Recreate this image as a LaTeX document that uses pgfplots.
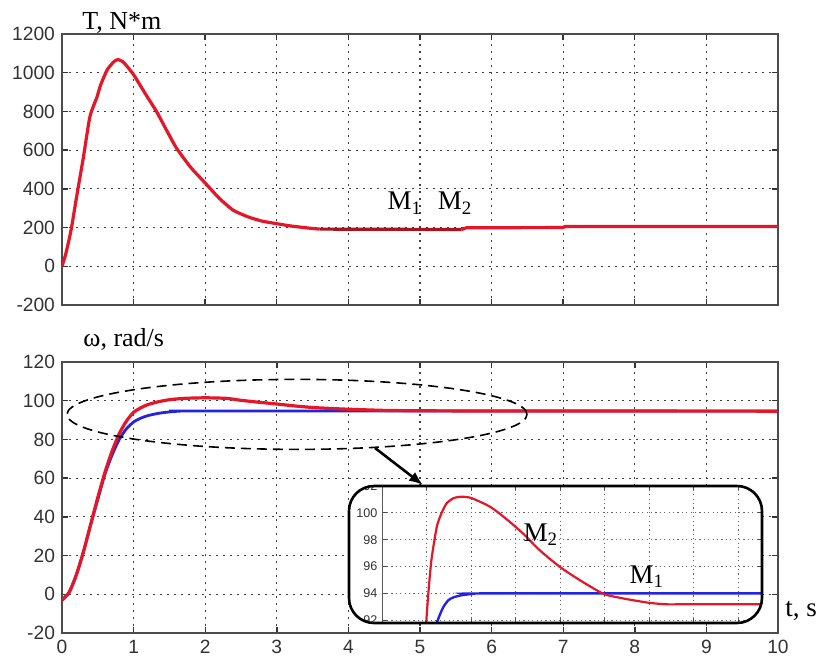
\documentclass[border=0pt]{standalone}
\usepackage{fontspec}
\setmainfont{Liberation Serif}
\newfontfamily\sansf{Liberation Sans}
\usepackage{pgfplots}
\pgfplotsset{compat=1.18}
\usetikzlibrary{arrows.meta}
\definecolor{cred}{RGB}{228,22,40}
\definecolor{cdred}{RGB}{170,20,30}
\definecolor{cblue}{RGB}{35,35,225}
\pgfplotsset{
  mainax/.style={
    scale only axis, width=358pt, height=135.5pt,
    xmin=0, xmax=10, xtick={0,1,...,10},
    grid=major,
    major grid style={black!75, line width=0.6pt, dash pattern=on 0.9pt off 2.6pt},
    axis line style={black!70, line width=0.9pt},
    major tick length=3pt,
    tick style={black!80, line width=0.7pt},
    tick label style={font=\sansf\fontsize{9.6}{10}\selectfont, black!80},
    /pgf/number format/assume math mode=true,
    /pgf/number format/1000 sep={},
  }
}
\begin{document}
\begin{tikzpicture}
\useasboundingbox (0,0) rectangle (410.5pt,332pt);
% ---------- top: torque ----------
\begin{axis}[mainax, at={(31pt,179.5pt)}, anchor=south west,
  ymin=-200, ymax=1200, ytick={-200,0,...,1200}, xticklabels={}]
\addplot[cred, line width=1.6pt, smooth, tension=0.35] coordinates {
(0,0) (0.05,60) (0.1,140) (0.135,204) (0.2,350) (0.3,566) (0.39,773) (0.49,876)
(0.54,937) (0.63,1014) (0.72,1055) (0.78,1068) (0.85,1057) (0.92,1028)
(1.0,990) (1.1,930) (1.2,870) (1.32,800) (1.45,710) (1.6,610) (1.8,510) (2.0,430)
(2.2,350) (2.39,290) (2.6,255) (2.8,233) (3.0,220) (3.2,208) (3.43,198) (3.6,192)};
\addplot[cdred, line width=1.6pt] coordinates {(3.6,192) (5.58,190)};
\addplot[cred, line width=1.6pt] coordinates {(5.58,190) (5.65,199) (7.0,200) (7.02,205) (10,205)};
\node[anchor=base, font=\fontsize{13.5}{15}\selectfont] at (axis cs:4.79,291) {M\textsubscript{1}};
\node[anchor=base, font=\fontsize{13.5}{15}\selectfont] at (axis cs:5.49,291) {M\textsubscript{2}};
\end{axis}
% ---------- bottom: speed ----------
\begin{axis}[mainax, at={(31pt,15.5pt)}, anchor=south west,
  ymin=-20, ymax=120, ytick={-20,0,...,120}]
\addplot[cblue, line width=1.4pt, smooth, tension=0.4] coordinates {
(0,-3) (0.1,1) (0.2,10) (0.3,22) (0.4,36) (0.5,49) (0.6,62) (0.7,72) (0.8,80)
(0.9,85.5) (1.0,89) (1.1,91) (1.2,92.3) (1.35,93.5) (1.5,94.2) (1.65,94.6) (2,94.7) (10,94.7)};
\addplot[cred, line width=1.6pt, smooth, tension=0.4] coordinates {
(0,-3) (0.1,1) (0.2,10) (0.3,22) (0.4,36) (0.5,50) (0.6,63) (0.7,74) (0.8,83)
(0.9,89.5) (1.0,94) (1.1,96.3) (1.2,98) (1.35,99.5) (1.5,100.5) (1.7,101.2) (2.0,101.5)
(2.3,101.2) (2.5,100.2) (2.75,99.2) (3.0,98.3) (3.25,97.3) (3.5,96.5) (3.75,96)
(4.0,95.6) (4.5,95) (5.0,94.8) (6,94.7) (10,94.6)};
\end{axis}
% ---------- annotations ----------
\draw[black, line width=0.8pt, dash pattern=on 5pt off 3pt] (148.5pt,124.8pt) ellipse [x radius=115pt, y radius=17.5pt];
\draw[black, line width=1.3pt, -{Latex[length=7pt,width=5.5pt]}] (187.5pt,108pt) -- (211.5pt,89.5pt);
\node[anchor=base west, inner sep=0pt, font=\fontsize{13}{15}\selectfont] at (41pt,317pt) {T, N*m};
\node[anchor=base west, inner sep=0pt, font=\fontsize{13}{15}\selectfont] at (41.5pt,158.7pt) {ω, rad/s};
\node[anchor=base west, inner sep=0pt, font=\fontsize{13.5}{15}\selectfont] at (392.5pt,23.7pt) {t, s};
% ---------- inset ----------
\fill[white, rounded corners=12.5pt] (174.5pt,20.5pt) rectangle (381pt,89pt);
\begin{scope}
\clip[rounded corners=12.5pt] (174.5pt,20.5pt) rectangle (381pt,89pt);
\begin{axis}[at={(191.25pt,20.5pt)}, anchor=south west, scale only axis,
  width=189.75pt, height=68.5pt,
  xmin=0, xmax=8.53, ymin=91.8, ymax=102,
  xtick={1,...,8}, xticklabels={},
  ytick={92,94,...,102},
  grid=major,
  major grid style={black!60, line width=0.5pt, dash pattern=on 0.6pt off 1.6pt},
  axis line style={black!65, line width=0.7pt},
  major tick length=2pt, tick style={black!70, line width=0.5pt},
  tick label style={font=\sansf\fontsize{6.3}{7}\selectfont, black!80},
  yticklabel style={xshift=1pt},
  /pgf/number format/assume math mode=true]
\addplot[cblue, line width=1.2pt, smooth, tension=0.4] coordinates {
(1.2,91.5) (1.23,91.9) (1.3,92.5) (1.37,93) (1.48,93.5) (1.59,93.7) (1.75,93.85)
(1.97,93.95) (2.2,94) (8.53,94)};
\addplot[cred, line width=1.1pt, smooth, tension=0.4] coordinates {
(0.95,91.5) (0.98,91.8) (1.03,94) (1.1,96.5) (1.22,98.96) (1.33,100) (1.44,100.7)
(1.6,101.1) (1.78,101.2) (2.0,101.1) (2.42,100.45) (2.8,99.5) (3.16,98.46) (3.54,97.2)
(3.99,95.97) (4.44,94.98) (4.96,93.98) (5.3,93.7) (5.64,93.49) (6.0,93.3) (6.39,93.19)
(7,93.2) (8.53,93.2)};
\node[anchor=base, font=\fontsize{13.5}{15}\selectfont] at (axis cs:3.56,97.9) {M\textsubscript{2}};
\node[anchor=base, font=\fontsize{13.5}{15}\selectfont] at (axis cs:5.94,94.75) {M\textsubscript{1}};
\end{axis}
\end{scope}
\draw[black, line width=1.3pt, rounded corners=12.5pt] (174.5pt,20.5pt) rectangle (381pt,89pt);
\end{tikzpicture}
\end{document}
